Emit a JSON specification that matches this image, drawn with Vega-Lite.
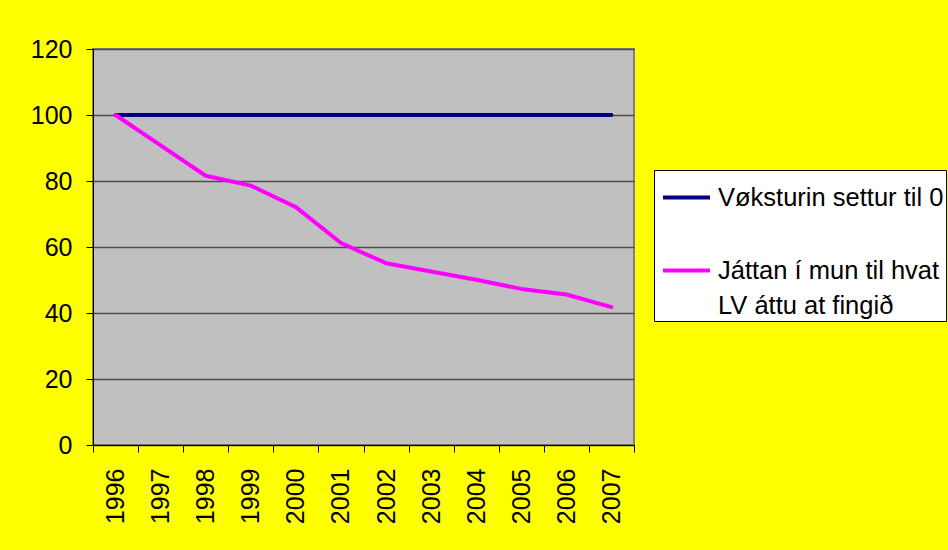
{
  "$schema": "https://vega.github.io/schema/vega-lite/v6.json",
  "autosize": {"type": "none"},
  "width": 541,
  "height": 396,
  "padding": {"left": 93, "top": 49, "right": 314, "bottom": 105},
  "background": "#ffff00",
  "data": {
    "values": [
      {"year": "1996", "series": "Vøksturin settur til 0", "value": 100},
      {"year": "1997", "series": "Vøksturin settur til 0", "value": 100},
      {"year": "1998", "series": "Vøksturin settur til 0", "value": 100},
      {"year": "1999", "series": "Vøksturin settur til 0", "value": 100},
      {"year": "2000", "series": "Vøksturin settur til 0", "value": 100},
      {"year": "2001", "series": "Vøksturin settur til 0", "value": 100},
      {"year": "2002", "series": "Vøksturin settur til 0", "value": 100},
      {"year": "2003", "series": "Vøksturin settur til 0", "value": 100},
      {"year": "2004", "series": "Vøksturin settur til 0", "value": 100},
      {"year": "2005", "series": "Vøksturin settur til 0", "value": 100},
      {"year": "2006", "series": "Vøksturin settur til 0", "value": 100},
      {"year": "2007", "series": "Vøksturin settur til 0", "value": 100},
      {"year": "1996", "series": "Játtan í mun til hvat LV áttu at fingið", "value": 100},
      {"year": "1997", "series": "Játtan í mun til hvat LV áttu at fingið", "value": 90.8},
      {"year": "1998", "series": "Játtan í mun til hvat LV áttu at fingið", "value": 81.6},
      {"year": "1999", "series": "Játtan í mun til hvat LV áttu at fingið", "value": 78.6},
      {"year": "2000", "series": "Játtan í mun til hvat LV áttu at fingið", "value": 72.1},
      {"year": "2001", "series": "Játtan í mun til hvat LV áttu at fingið", "value": 61.2},
      {"year": "2002", "series": "Játtan í mun til hvat LV áttu at fingið", "value": 55.1},
      {"year": "2003", "series": "Játtan í mun til hvat LV áttu at fingið", "value": 52.6},
      {"year": "2004", "series": "Játtan í mun til hvat LV áttu at fingið", "value": 50.1},
      {"year": "2005", "series": "Játtan í mun til hvat LV áttu at fingið", "value": 47.3},
      {"year": "2006", "series": "Játtan í mun til hvat LV áttu at fingið", "value": 45.6},
      {"year": "2007", "series": "Játtan í mun til hvat LV áttu at fingið", "value": 41.8}
    ]
  },
  "mark": {"type": "line", "strokeWidth": 4, "strokeCap": "round", "strokeJoin": "round"},
  "encoding": {
    "x": {
      "field": "year",
      "type": "ordinal",
      "scale": {"type": "band", "paddingInner": 0, "paddingOuter": 0},
      "axis": {
        "title": null,
        "labelAngle": 270,
        "tickBand": "extent",
        "tickSize": 7,
        "tickColor": "#000000",
        "domainColor": "#000000",
        "labelPadding": 16,
        "labelFontSize": 25,
        "labelFont": "Liberation Sans",
        "labelColor": "#000000",
        "grid": false
      }
    },
    "y": {
      "field": "value",
      "type": "quantitative",
      "scale": {"domain": [0, 120], "nice": false},
      "axis": {
        "title": null,
        "values": [0, 20, 40, 60, 80, 100, 120],
        "tickSize": 7,
        "tickColor": "#000000",
        "domainColor": "#000000",
        "labelPadding": 14,
        "labelFontSize": 25,
        "labelFont": "Liberation Sans",
        "labelColor": "#000000",
        "grid": true,
        "gridColor": "#4d4d4d",
        "gridWidth": 1.5
      }
    },
    "color": {
      "field": "series",
      "type": "nominal",
      "scale": {
        "domain": ["Vøksturin settur til 0", "Játtan í mun til hvat LV áttu at fingið"],
        "range": ["#000080", "#ff00ff"]
      },
      "legend": {
        "title": null,
        "orient": "none",
        "legendX": 561,
        "legendY": 121,
        "fillColor": "#ffffff",
        "strokeColor": "#000000",
        "padding": 2,
        "symbolOffset": 5,
        "symbolType": "stroke",
        "symbolSize": 2209,
        "symbolStrokeWidth": 4,
        "labelFontSize": 25.5,
        "labelFont": "Liberation Sans",
        "labelColor": "#000000",
        "labelLimit": 400,
        "labelOffset": 6,
        "rowPadding": 34,
        "labelExpr": "datum.label == 'Játtan í mun til hvat LV áttu at fingið' ? ['Játtan í mun til hvat', 'LV áttu at fingið'] : datum.label"
      }
    }
  },
  "config": {
    "view": {"fill": "#c0c0c0", "stroke": "#808080", "strokeWidth": 2},
    "style": {"guide-label": {"lineHeight": 35}}
  }
}
